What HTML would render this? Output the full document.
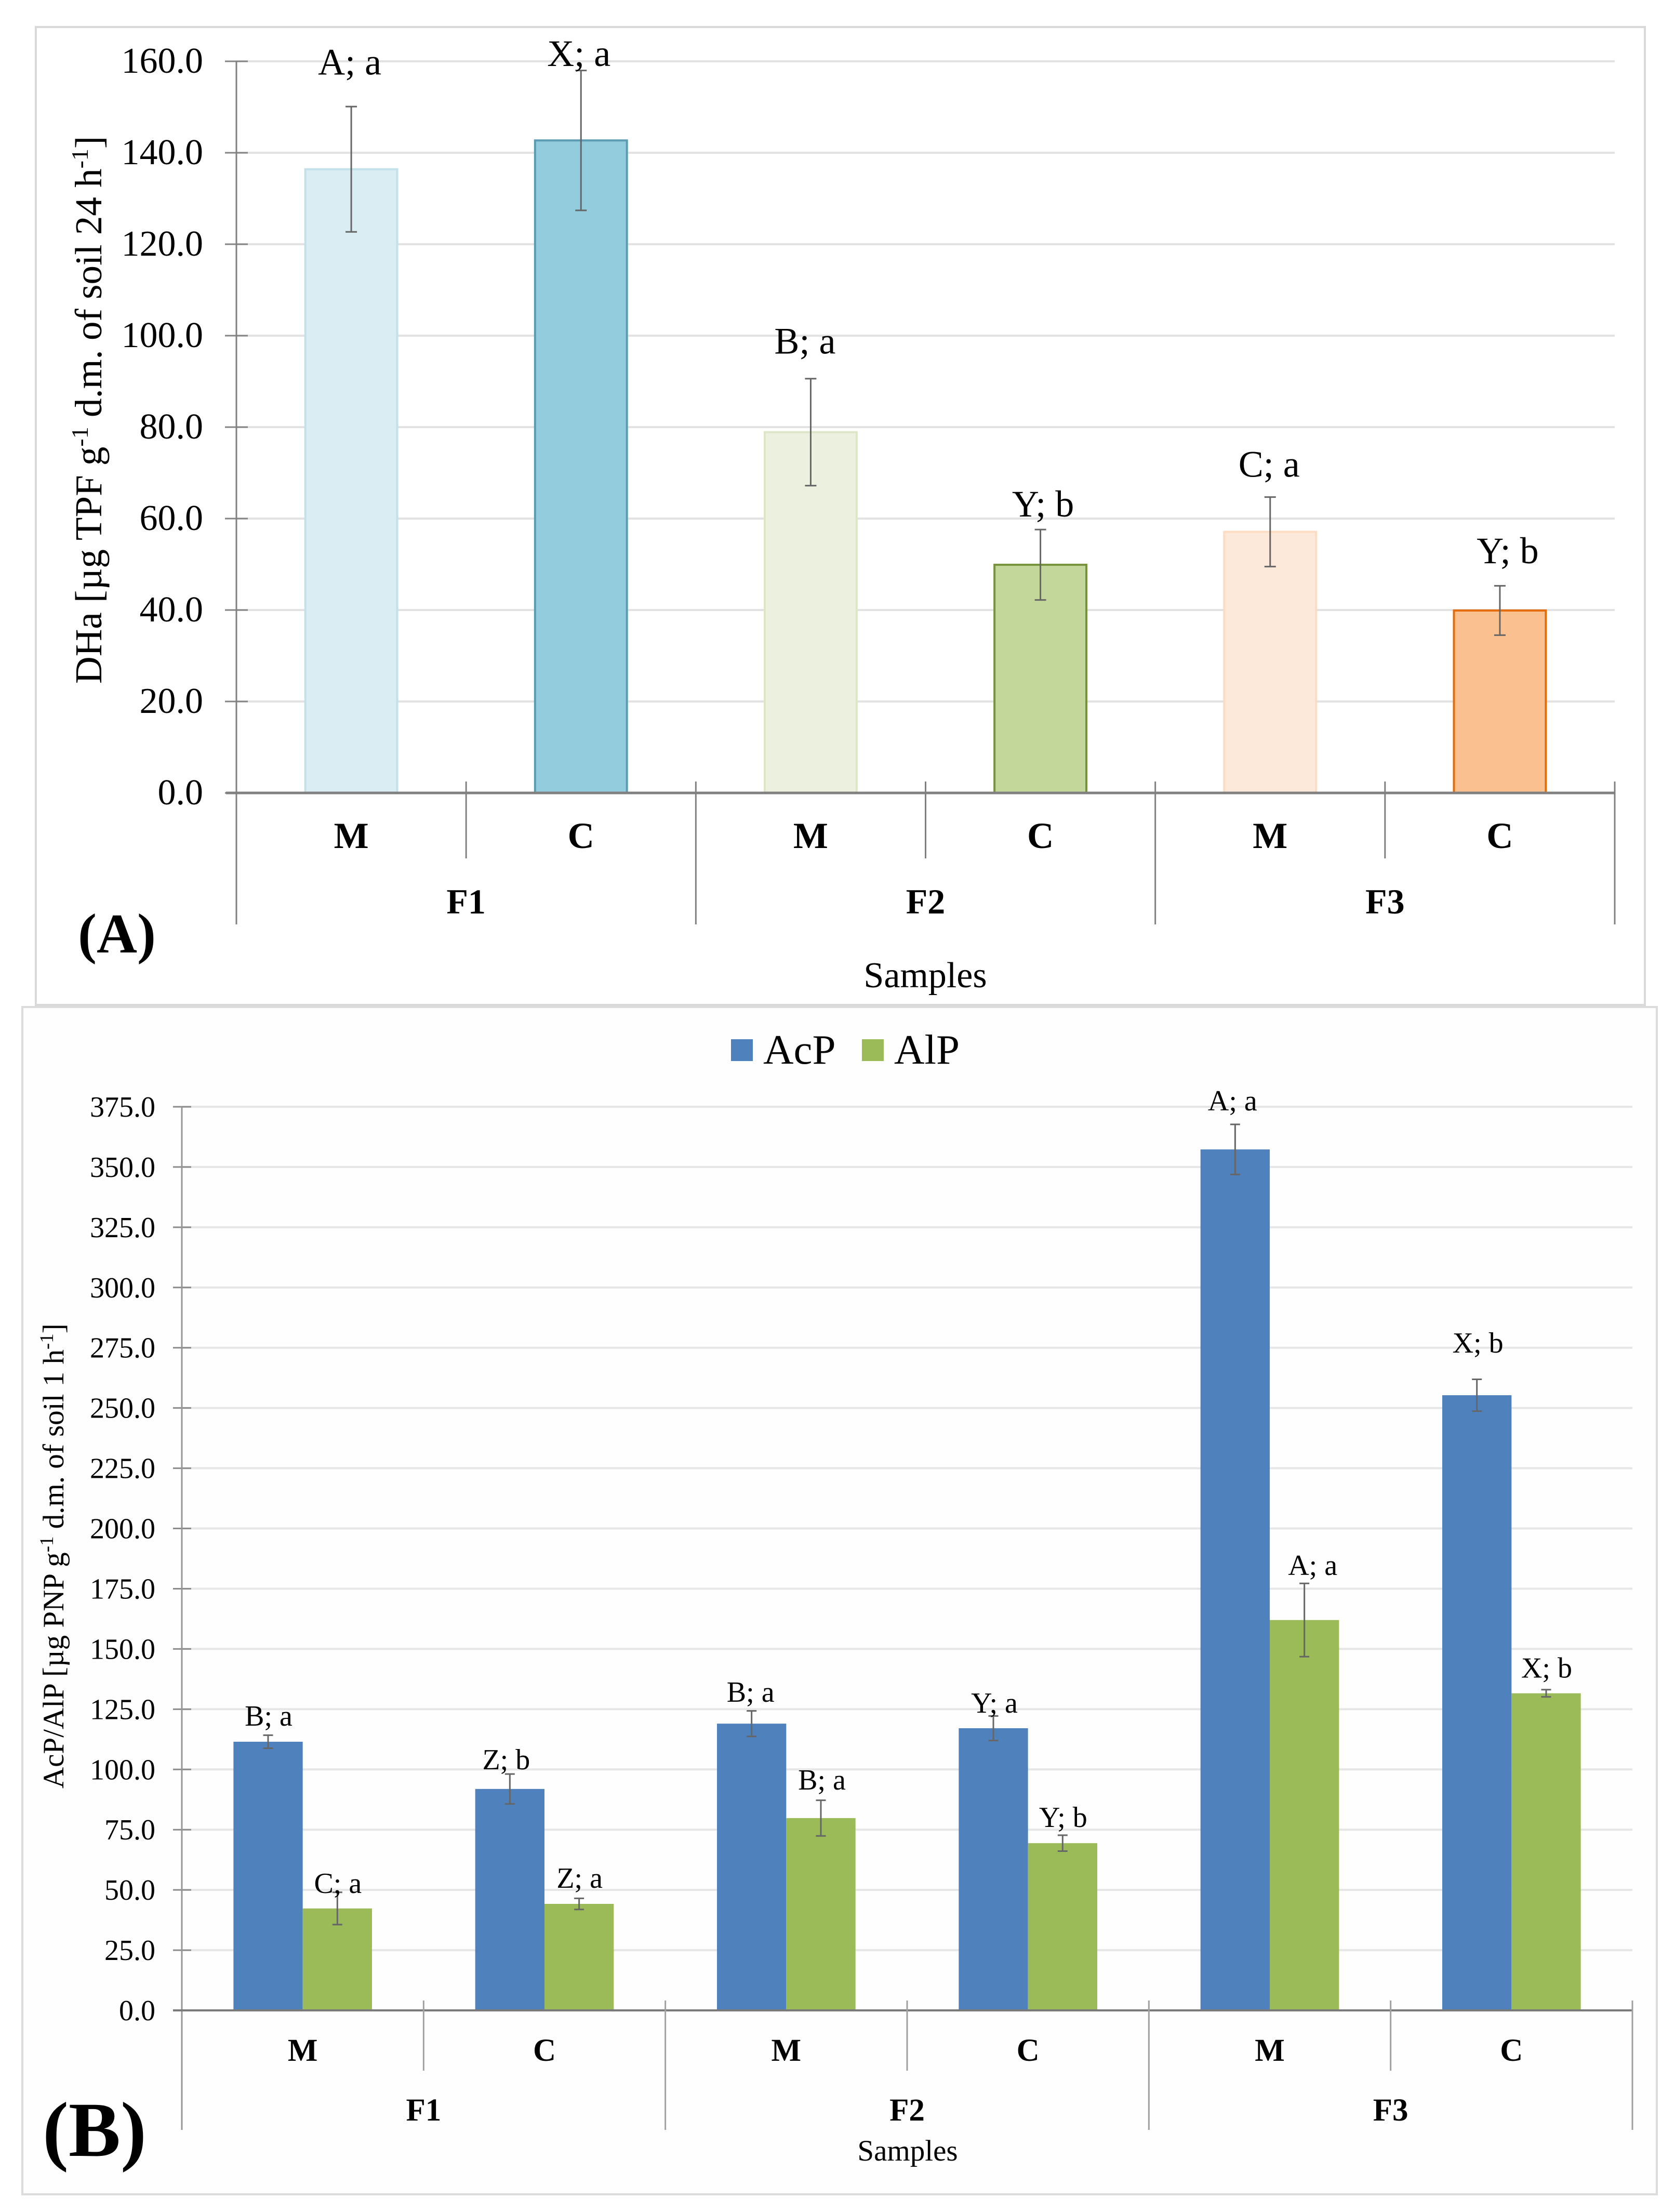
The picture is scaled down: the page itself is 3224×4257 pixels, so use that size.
<!DOCTYPE html>
<html lang="en">
<head>
<meta charset="utf-8">
<title>DHa and AcP/AlP soil enzyme activity charts</title>
<style>
  html, body { margin: 0; padding: 0; background: #fff; }
  svg { display: block; }
  text { font-family: "Liberation Serif", "DejaVu Serif", serif; fill: #000; }
  .b { font-weight: bold; }
</style>
</head>
<body>
<svg id="figure" xmlns="http://www.w3.org/2000/svg" width="3224" height="4257" viewBox="0 0 3224 4257">
  <rect x="0" y="0" width="3224" height="4257" fill="#ffffff"/>
  <rect x="69" y="52" width="3097" height="1882" fill="#ffffff" stroke="#d9d9d9" stroke-width="4"/>
  <rect x="43" y="1938" width="3146" height="2285" fill="#fefefe" stroke="#dcdcdc" stroke-width="4"/>

  <g id="chartA"></g>
  <g id="chartB"></g>

  <text transform="translate(195,1316) rotate(-90)" font-size="73">DHa [µg TPF g<tspan dy="-26" font-size="46">-1</tspan><tspan dy="26"> d.m. of soil 24 h</tspan><tspan dy="-26" font-size="46">-1</tspan><tspan dy="26">]</tspan></text>
  <text x="1781" y="1900" font-size="70" text-anchor="middle">Samples</text>
  <text class="b" x="150" y="1833" font-size="108">(A)</text>

  <text transform="translate(122,3442) rotate(-90)" font-size="57">AcP/AlP [µg PNP g<tspan dy="-20" font-size="37">-1</tspan><tspan dy="20"> d.m. of soil 1 h</tspan><tspan dy="-20" font-size="37">-1</tspan><tspan dy="20">]</tspan></text>
  <text x="1747" y="4158" font-size="57" text-anchor="middle">Samples</text>
  <text class="b" x="82" y="4149" font-size="150">(B)</text>

  <g>
    <rect x="1407" y="2000" width="42" height="42" fill="#4f81bd"/>
    <text x="1469" y="2047" font-size="81">AcP</text>
    <rect x="1659" y="2000" width="42" height="42" fill="#9bbb59"/>
    <text x="1721" y="2047" font-size="81">AlP</text>
  </g>
</svg>

<script>
// ---- Panel A data ----
const dhaCategories = ["M", "C", "M", "C", "M", "C"];
const dhaGroups = ["F1", "F2", "F3"];
const dhaValues = [136.4, 142.7, 78.9, 49.9, 57.1, 39.9];
const dhaErrors = [13.7, 15.3, 11.7, 7.7, 7.6, 5.4];
const dhaLetters = ["A; a", "X; a", "B; a", "Y; b", "C; a", "Y; b"];
const dhaTicks = [0, 20, 40, 60, 80, 100, 120, 140, 160];

// ---- Panel B data ----
const enzymeCategories = ["M", "C", "M", "C", "M", "C"];
const enzymeGroups = ["F1", "F2", "F3"];
const acpValues = [111.5, 91.9, 119.0, 117.1, 357.3, 255.3];
const acpErrors = [2.7, 6.2, 5.3, 5.1, 10.4, 6.6];
const acpLetters = ["B; a", "Z; b", "B; a", "Y; a", "A; a", "X; b"];
const alpValues = [42.3, 44.2, 79.8, 69.4, 162.0, 131.6];
const alpErrors = [6.7, 2.3, 7.4, 3.3, 15.2, 1.5];
const alpLetters = ["C; a", "Z; a", "B; a", "Y; b", "A; a", "X; b"];
const enzymeTicks = [0, 25, 50, 75, 100, 125, 150, 175, 200, 225, 250, 275, 300, 325, 350, 375];

// ---- Layout (hand-placed annotation nudges, as in the original chart) ----
const dhaLabelLift = [182, 143, 151, 93, 106, 91];
const dhaLabelShift = [-3, -4, -11, 5, -2, 15];
const acpLabelLift = [31, 38, 42, 30, 75, 82];
const acpLabelShift = [1, -7, -2, 2, -5, 2];
const alpLabelLift = [30, 31, 55, 31, 87, 30];
const alpLabelShift = [1, 1, 2, 1, 16, 1];
const dhaFills = ["#daedf3", "#93ccdd", "#ebf1de", "#c4d79b", "#fde9d9", "#fac090"];
const dhaStrokes = ["#c3e1ea", "#5b9cb2", "#dde7c8", "#76923c", "#fcdcc2", "#e46c0a"];

const NS = "http://www.w3.org/2000/svg";
function mk(parent, tag, attrs, txt) {
  const n = document.createElementNS(NS, tag);
  for (const k in attrs) n.setAttribute(k, attrs[k]);
  if (txt !== undefined) n.textContent = txt;
  parent.appendChild(n);
  return n;
}

// Panel A axis functions
const ax = { left: 455, right: 3108, base: 1526, top: 118 };
function xA(i) { return ax.left + (ax.right - ax.left) * i / dhaCategories.length; }
function yA(v) { return ax.base - v * (ax.base - ax.top) / 160; }

// Panel B axis functions
const bx = { left: 350, right: 3142, base: 3869, top: 2130 };
function xB(i) { return bx.left + (bx.right - bx.left) * i / enzymeCategories.length; }
function yB(v) { return bx.base - v * (bx.base - bx.top) / 375; }

function drawError(parent, cx, hi, lo, cap, sw, name) {
  const g = mk(parent, "g", { stroke: "#666666", "stroke-width": sw, fill: "none" });
  
  
  mk(g, "line", { x1: cx, x2: cx, y1: hi, y2: lo });
  mk(g, "line", { x1: cx - cap / 2, x2: cx + cap / 2, y1: hi, y2: hi });
  mk(g, "line", { x1: cx - cap / 2, x2: cx + cap / 2, y1: lo, y2: lo });
}

// ---------- Panel A ----------
(function () {
  const root = document.getElementById("chartA");
  dhaTicks.forEach(function (t) {
    const y = yA(t);
    if (t !== 0) {
      const grid = mk(root, "line", { x1: ax.left, x2: ax.right, y1: y, y2: y, stroke: "#e2e2e2", "stroke-width": 4 });
      
      
    }
    const tick = mk(root, "line", { x1: 433, x2: 477, y1: y, y2: y, stroke: "#858585", "stroke-width": 3 });
    
    
    const lab = mk(root, "text", { x: 391, y: y + 22, "font-size": 70, "text-anchor": "end" }, t.toFixed(1));
    
    
  });

  const barW = (ax.right - ax.left) / dhaCategories.length * 0.4;
  dhaValues.forEach(function (v, i) {
    const cx = xA(i + 0.5);
    const bar = mk(root, "rect", { x: cx - barW / 2, y: yA(v), width: barW, height: ax.base - yA(v), fill: dhaFills[i], stroke: dhaStrokes[i], "stroke-width": 4 });
    
    
  });

  const yAxis = mk(root, "line", { x1: ax.left, x2: ax.left, y1: ax.top, y2: 1779, stroke: "#808080", "stroke-width": 3 });
  
  
  const xAxis = mk(root, "line", { x1: 435, x2: ax.right, y1: ax.base, y2: ax.base, stroke: "#808080", "stroke-width": 5 });
  
  

  dhaValues.forEach(function (v, i) {
    const cx = xA(i + 0.5);
    drawError(root, cx, yA(v + dhaErrors[i]), yA(v - dhaErrors[i]), 22, 3, 'error-bar-' + i);
    const letter = mk(root, "text", { x: cx + dhaLabelShift[i], y: yA(v) - dhaLabelLift[i], "font-size": 72, "text-anchor": "middle" }, dhaLetters[i]);
    
    
    const cat = mk(root, "text", { x: cx, y: 1632, "font-size": 71, "text-anchor": "middle", class: "b" }, dhaCategories[i]);
    
    
  });

  dhaCategories.concat([""]).forEach(function (c, i) {
    if (i === 0) return;
    const long = i % 2 === 0;
    const sep = mk(root, "line", { x1: xA(i), x2: xA(i), y1: 1504, y2: long ? 1779 : 1652, stroke: "#808080", "stroke-width": 3 });
    
    
  });

  dhaGroups.forEach(function (g, i) {
    const lab = mk(root, "text", { x: xA(i * 2 + 1), y: 1758, "font-size": 68, "text-anchor": "middle", class: "b" }, g);
    
    
  });
})();

// ---------- Panel B ----------
(function () {
  const root = document.getElementById("chartB");
  enzymeTicks.forEach(function (t) {
    const y = yB(t);
    if (t !== 0) {
      const grid = mk(root, "line", { x1: bx.left, x2: bx.right, y1: y, y2: y, stroke: "#e6e6e6", "stroke-width": 4 });
      
      
    }
    const tick = mk(root, "line", { x1: 333, x2: 368, y1: y, y2: y, stroke: "#8c8c8c", "stroke-width": 3 });
    
    
    const lab = mk(root, "text", { x: 299, y: y + 19, "font-size": 56, "text-anchor": "end" }, t.toFixed(1));
    
    
  });

  const step = (bx.right - bx.left) / enzymeCategories.length;
  const barW = step * 0.2865;
  acpValues.forEach(function (v, i) {
    const cx = xB(i + 0.5);
    const bar = mk(root, "rect", { x: cx - barW, y: yB(v), width: barW, height: bx.base - yB(v), fill: "#4f81bd" });
    
    
  });
  alpValues.forEach(function (v, i) {
    const cx = xB(i + 0.5);
    const bar = mk(root, "rect", { x: cx, y: yB(v), width: barW, height: bx.base - yB(v), fill: "#9bbb59" });
    
    
  });

  const yAxis = mk(root, "line", { x1: bx.left, x2: bx.left, y1: bx.top, y2: 4099, stroke: "#969696", "stroke-width": 3 });
  
  
  const xAxis = mk(root, "line", { x1: 333, x2: bx.right, y1: bx.base, y2: bx.base, stroke: "#7a7a7a", "stroke-width": 4 });
  
  

  acpValues.forEach(function (v, i) {
    const cx = xB(i + 0.5) - barW / 2;
    drawError(root, cx, yB(v + acpErrors[i]), yB(v - acpErrors[i]), 19, 3, 'error-bar-acp-' + i);
    const letter = mk(root, "text", { x: cx + acpLabelShift[i], y: yB(v) - acpLabelLift[i], "font-size": 56, "text-anchor": "middle" }, acpLetters[i]);
    
    
  });
  alpValues.forEach(function (v, i) {
    const cx = xB(i + 0.5) + barW / 2;
    drawError(root, cx, yB(v + alpErrors[i]), yB(v - alpErrors[i]), 19, 3, 'error-bar-alp-' + i);
    const letter = mk(root, "text", { x: cx + alpLabelShift[i], y: yB(v) - alpLabelLift[i], "font-size": 56, "text-anchor": "middle" }, alpLetters[i]);
    
    
  });

  enzymeCategories.forEach(function (c, i) {
    const cat = mk(root, "text", { x: xB(i + 0.5), y: 3966, "font-size": 61, "text-anchor": "middle", class: "b" }, c);
    
    
  });

  enzymeCategories.concat([""]).forEach(function (c, i) {
    if (i === 0) return;
    const long = i % 2 === 0;
    const sep = mk(root, "line", { x1: xB(i), x2: xB(i), y1: 3850, y2: long ? 4099 : 3985, stroke: "#a0a0a0", "stroke-width": 3 });
    
    
  });

  enzymeGroups.forEach(function (g, i) {
    const lab = mk(root, "text", { x: xB(i * 2 + 1), y: 4081, "font-size": 61, "text-anchor": "middle", class: "b" }, g);
    
    
  });
})();
</script>
</body>
</html>
